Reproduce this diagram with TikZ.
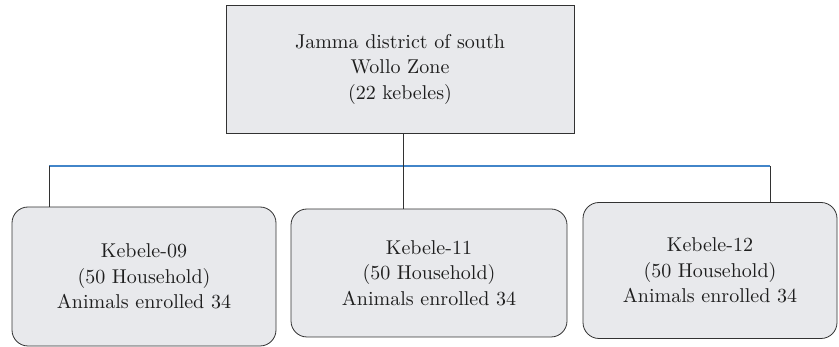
\documentclass[tikz,border=0pt]{standalone}
\usepackage{fontspec}
\setmainfont{lmroman10-regular}[Extension=.otf]
\usetikzlibrary{positioning}
\definecolor{boxgray}{RGB}{232,233,236}
\definecolor{edgegray}{RGB}{50,50,50}
\definecolor{barblue}{RGB}{66,133,201}
\definecolor{textgray}{RGB}{30,30,30}

\begin{document}
\begin{tikzpicture}[x=1pt,y=-1pt,
box_style/.style={draw=edgegray,fill=boxgray,line width=0.9pt,align=center,
  text=textgray,inner sep=0pt,font=\fontsize{20}{25.5}\selectfont},
kebele_style/.style={box_style,rounded corners=16pt,line width=0.8pt},
link_style/.style={draw=edgegray,line width=0.8pt}]

\useasboundingbox (0,0) rectangle (839,347);

% district and kebeles
\node[box_style,minimum width=348pt,minimum height=128pt] (jamma) at (400,69)
  {Jamma district of south\\Wollo Zone\\(22 kebeles)};
\node[kebele_style,minimum width=264pt,minimum height=139pt] (k09) at (144,276.5)
  {Kebele-09\\(50 Household)\\Animals enrolled 34};
\node[kebele_style,minimum width=276pt,minimum height=128pt] (k11) at (429,273)
  {Kebele-11\\(50 Household)\\Animals enrolled 34};
\node[kebele_style,minimum width=254pt,minimum height=136pt] (k12) at (710,270.5)
  {Kebele-12\\(50 Household)\\Animals enrolled 34};

% bar
\coordinate (j09) at (49,166);
\coordinate (j11) at (403,166);
\coordinate (j12) at (770,166);
\draw[barblue,line width=1.2pt] (j09) -- (j12);

\draw[link_style] (j11 |- jamma.south) -- (j11 |- k11.north);
\draw[link_style] (j09) -- (j09 |- k09.north);
\draw[link_style] (j12) -- (j12 |- k12.north);
\end{tikzpicture}
\end{document}
